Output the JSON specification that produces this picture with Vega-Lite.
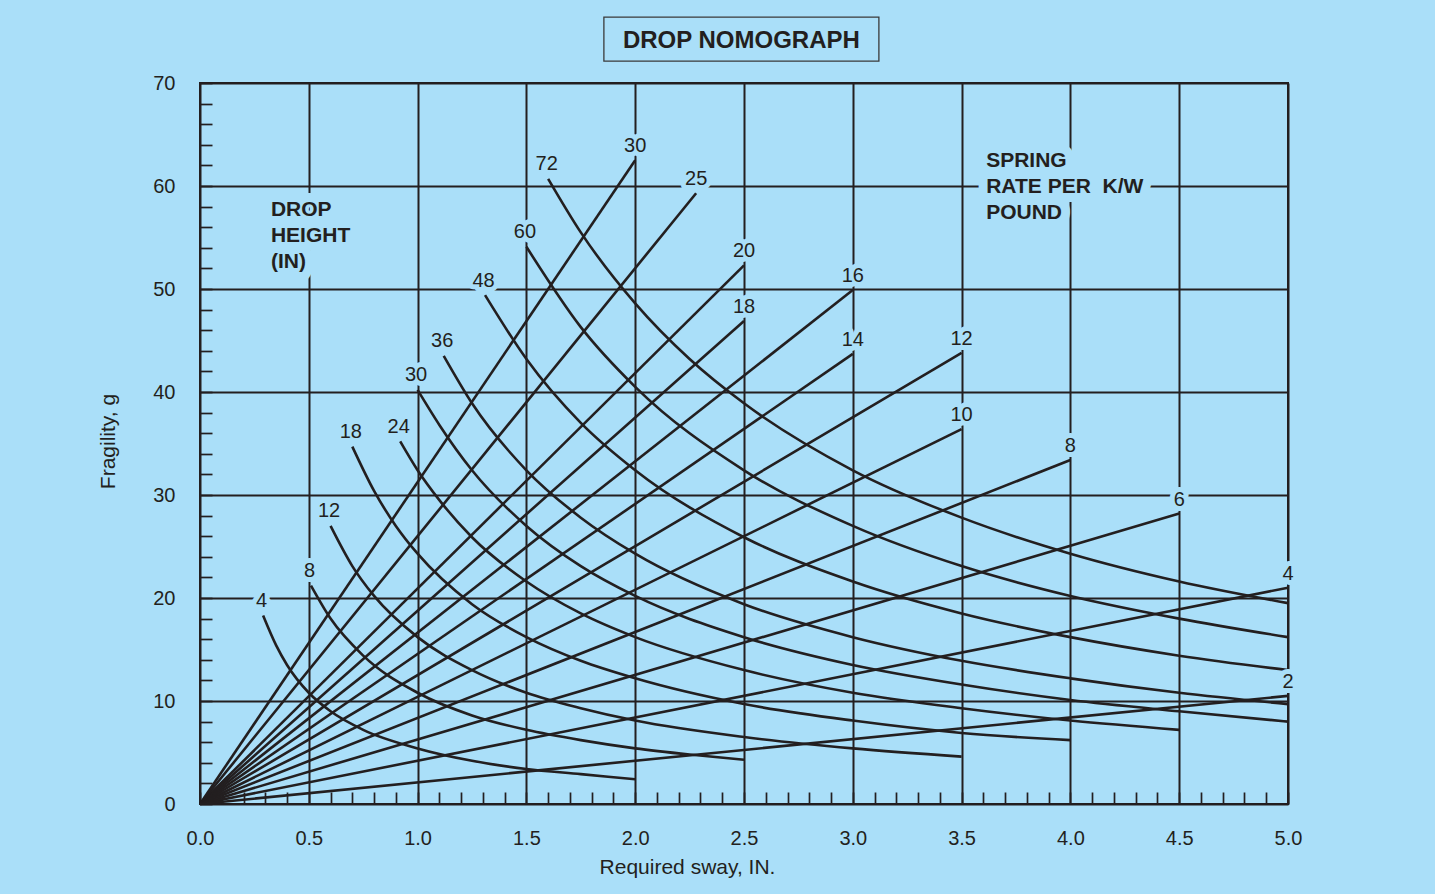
{
  "$schema": "https://vega.github.io/schema/vega-lite/v6.json",
  "width": 1088,
  "height": 721,
  "autosize": "none",
  "padding": {"left": 200, "top": 83, "right": 147, "bottom": 90},
  "background": "#aadff9",
  "config": {
    "font": "Liberation Sans",
    "view": {"stroke": "#231f20", "strokeWidth": 2},
    "axis": {
      "domain": false,
      "labelFont": "Liberation Sans",
      "labelFontSize": 20,
      "labelColor": "#231f20",
      "labelOverlap": false,
      "labelFlush": false,
      "tickColor": "#231f20",
      "tickWidth": 1.7,
      "tickSize": -12,
      "gridColor": "#231f20",
      "gridWidth": 2,
      "titleFont": "Liberation Sans",
      "titleFontSize": 21,
      "titleFontWeight": "normal",
      "titleColor": "#231f20"
    }
  },
  "datasets": {
    "springs": [
      {"k": 30, "d": 0, "g": 0}, {"k": 30, "d": 2.0, "g": 62.5},
      {"k": 25, "d": 0, "g": 0}, {"k": 25, "d": 2.28, "g": 59.3},
      {"k": 20, "d": 0, "g": 0}, {"k": 20, "d": 2.5, "g": 52.3},
      {"k": 18, "d": 0, "g": 0}, {"k": 18, "d": 2.5, "g": 46.9},
      {"k": 16, "d": 0, "g": 0}, {"k": 16, "d": 3.0, "g": 49.9},
      {"k": 14, "d": 0, "g": 0}, {"k": 14, "d": 3.0, "g": 43.7},
      {"k": 12, "d": 0, "g": 0}, {"k": 12, "d": 3.5, "g": 43.8},
      {"k": 10, "d": 0, "g": 0}, {"k": 10, "d": 3.5, "g": 36.4},
      {"k": 8, "d": 0, "g": 0}, {"k": 8, "d": 4.0, "g": 33.4},
      {"k": 6, "d": 0, "g": 0}, {"k": 6, "d": 4.5, "g": 28.2},
      {"k": 4, "d": 0, "g": 0}, {"k": 4, "d": 5.0, "g": 21.0},
      {"k": 2, "d": 0, "g": 0}, {"k": 2, "d": 5.0, "g": 10.5}
    ],
    "drops": [
      {"h": 4, "d": 0.29, "g": 18.3}, {"h": 4, "d": 0.35, "g": 15.4}, {"h": 4, "d": 0.4, "g": 13.5}, {"h": 4, "d": 0.5, "g": 10.8}, {"h": 4, "d": 0.6, "g": 9.0}, {"h": 4, "d": 0.75, "g": 7.2}, {"h": 4, "d": 1.0, "g": 5.4}, {"h": 4, "d": 1.25, "g": 4.2}, {"h": 4, "d": 1.5, "g": 3.4}, {"h": 4, "d": 1.75, "g": 2.9}, {"h": 4, "d": 2.0, "g": 2.4},
      {"h": 8, "d": 0.51, "g": 21.2}, {"h": 8, "d": 0.6, "g": 18.0}, {"h": 8, "d": 0.75, "g": 14.4}, {"h": 8, "d": 1.0, "g": 10.8}, {"h": 8, "d": 1.25, "g": 8.6}, {"h": 8, "d": 1.5, "g": 7.2}, {"h": 8, "d": 1.75, "g": 6.2}, {"h": 8, "d": 2.0, "g": 5.4}, {"h": 8, "d": 2.25, "g": 4.8}, {"h": 8, "d": 2.5, "g": 4.3},
      {"h": 12, "d": 0.6, "g": 27.0}, {"h": 12, "d": 0.7, "g": 23.1}, {"h": 12, "d": 0.8, "g": 20.2}, {"h": 12, "d": 1.0, "g": 16.2}, {"h": 12, "d": 1.25, "g": 13.0}, {"h": 12, "d": 1.5, "g": 10.8}, {"h": 12, "d": 1.75, "g": 9.3}, {"h": 12, "d": 2.0, "g": 8.1}, {"h": 12, "d": 2.5, "g": 6.5}, {"h": 12, "d": 3.0, "g": 5.4}, {"h": 12, "d": 3.5, "g": 4.6},
      {"h": 18, "d": 0.7, "g": 34.7}, {"h": 18, "d": 0.8, "g": 30.4}, {"h": 18, "d": 0.9, "g": 27.0}, {"h": 18, "d": 1.0, "g": 24.3}, {"h": 18, "d": 1.25, "g": 19.4}, {"h": 18, "d": 1.5, "g": 16.2}, {"h": 18, "d": 1.75, "g": 13.9}, {"h": 18, "d": 2.0, "g": 12.2}, {"h": 18, "d": 2.5, "g": 9.7}, {"h": 18, "d": 3.0, "g": 8.1}, {"h": 18, "d": 3.5, "g": 6.9}, {"h": 18, "d": 4.0, "g": 6.2},
      {"h": 24, "d": 0.92, "g": 35.2}, {"h": 24, "d": 1.0, "g": 32.4}, {"h": 24, "d": 1.1, "g": 29.5}, {"h": 24, "d": 1.25, "g": 25.9}, {"h": 24, "d": 1.5, "g": 21.6}, {"h": 24, "d": 1.75, "g": 18.5}, {"h": 24, "d": 2.0, "g": 16.2}, {"h": 24, "d": 2.5, "g": 13.0}, {"h": 24, "d": 3.0, "g": 10.8}, {"h": 24, "d": 3.5, "g": 9.3}, {"h": 24, "d": 4.0, "g": 8.1}, {"h": 24, "d": 4.5, "g": 7.2},
      {"h": 30, "d": 1.0, "g": 40.2}, {"h": 30, "d": 1.1, "g": 36.8}, {"h": 30, "d": 1.25, "g": 32.4}, {"h": 30, "d": 1.5, "g": 27.0}, {"h": 30, "d": 1.75, "g": 23.1}, {"h": 30, "d": 2.0, "g": 20.2}, {"h": 30, "d": 2.5, "g": 16.2}, {"h": 30, "d": 3.0, "g": 13.5}, {"h": 30, "d": 3.5, "g": 11.6}, {"h": 30, "d": 4.0, "g": 10.1}, {"h": 30, "d": 4.5, "g": 9.0}, {"h": 30, "d": 5.0, "g": 8.0},
      {"h": 36, "d": 1.12, "g": 43.5}, {"h": 36, "d": 1.25, "g": 38.9}, {"h": 36, "d": 1.5, "g": 32.4}, {"h": 36, "d": 1.75, "g": 27.8}, {"h": 36, "d": 2.0, "g": 24.3}, {"h": 36, "d": 2.5, "g": 19.4}, {"h": 36, "d": 3.0, "g": 16.2}, {"h": 36, "d": 3.5, "g": 13.9}, {"h": 36, "d": 4.0, "g": 12.2}, {"h": 36, "d": 4.5, "g": 10.8}, {"h": 36, "d": 5.0, "g": 9.7},
      {"h": 48, "d": 1.31, "g": 49.4}, {"h": 48, "d": 1.5, "g": 43.2}, {"h": 48, "d": 1.75, "g": 37.0}, {"h": 48, "d": 2.0, "g": 32.4}, {"h": 48, "d": 2.5, "g": 25.9}, {"h": 48, "d": 3.0, "g": 21.6}, {"h": 48, "d": 3.5, "g": 18.5}, {"h": 48, "d": 4.0, "g": 16.2}, {"h": 48, "d": 4.5, "g": 14.4}, {"h": 48, "d": 5.0, "g": 13.0},
      {"h": 60, "d": 1.5, "g": 54.1}, {"h": 60, "d": 1.75, "g": 46.3}, {"h": 60, "d": 2.0, "g": 40.5}, {"h": 60, "d": 2.5, "g": 32.4}, {"h": 60, "d": 3.0, "g": 27.0}, {"h": 60, "d": 3.5, "g": 23.1}, {"h": 60, "d": 4.0, "g": 20.2}, {"h": 60, "d": 4.5, "g": 18.0}, {"h": 60, "d": 5.0, "g": 16.2},
      {"h": 72, "d": 1.6, "g": 60.7}, {"h": 72, "d": 1.75, "g": 55.5}, {"h": 72, "d": 2.0, "g": 48.6}, {"h": 72, "d": 2.25, "g": 43.2}, {"h": 72, "d": 2.5, "g": 38.9}, {"h": 72, "d": 3.0, "g": 32.4}, {"h": 72, "d": 3.5, "g": 27.8}, {"h": 72, "d": 4.0, "g": 24.3}, {"h": 72, "d": 4.5, "g": 21.6}, {"h": 72, "d": 5.0, "g": 19.5}
    ],
    "notes": [
      {"note": "DROP\nHEIGHT\n(IN)", "d": 0.326, "g": 57.1},
      {"note": "SPRING\nRATE PER\u00a0\u00a0K/W\nPOUND", "d": 3.613, "g": 61.87}
    ],
    "heading": [
      {"note": "DROP NOMOGRAPH", "d": 2.488, "g": 73.37}
    ]
  },
  "encoding": {
    "x": {
      "field": "d",
      "type": "quantitative",
      "scale": {"domain": [0, 5], "nice": false, "zero": false},
      "axis": {
        "title": "Required sway, IN.",
        "titleX": 487,
        "titleY": 69,
        "titleAlign": "center",
        "titleBaseline": "alphabetic",
        "values": [0,0.1,0.2,0.3,0.4,0.5,0.6,0.7,0.8,0.9,1,1.1,1.2,1.3,1.4,1.5,1.6,1.7,1.8,1.9,2,2.1,2.2,2.3,2.4,2.5,2.6,2.7,2.8,2.9,3,3.1,3.2,3.3,3.4,3.5,3.6,3.7,3.8,3.9,4,4.1,4.2,4.3,4.4,4.5,4.6,4.7,4.8,4.9,5],
        "labelExpr": "abs(datum.value * 2 - round(datum.value * 2)) < 0.001 ? format(datum.value, '.1f') : ''",
        "labelPadding": 36,
        "grid": true,
        "gridOpacity": {"condition": {"test": "abs(datum.value * 2 - round(datum.value * 2)) < 0.001", "value": 1}, "value": 0}
      }
    },
    "y": {
      "field": "g",
      "type": "quantitative",
      "scale": {"domain": [0, 70], "nice": false, "zero": false},
      "axis": {
        "title": "Fragility, g",
        "titleX": -86,
        "titleY": 358,
        "titleAngle": -90,
        "titleAlign": "center",
        "titleBaseline": "alphabetic",
        "values": [0,2,4,6,8,10,12,14,16,18,20,22,24,26,28,30,32,34,36,38,40,42,44,46,48,50,52,54,56,58,60,62,64,66,68,70],
        "labelExpr": "datum.value % 10 === 0 ? datum.label : ''",
        "labelPadding": 37,
        "grid": true,
        "gridOpacity": {"condition": {"test": "datum.value % 10 === 0", "value": 1}, "value": 0}
      }
    }
  },
  "layer": [
    {
      "data": {"name": "springs"},
      "mark": {"type": "line", "color": "#231f20", "strokeWidth": 2.6, "strokeJoin": "round"},
      "encoding": {"detail": {"field": "k", "type": "nominal"}}
    },
    {
      "data": {"name": "drops"},
      "mark": {"type": "line", "color": "#231f20", "strokeWidth": 2.6, "interpolate": "monotone"},
      "encoding": {"detail": {"field": "h", "type": "nominal"}}
    },
    {
      "data": {"name": "springs"},
      "transform": [
        {"joinaggregate": [{"op": "max", "field": "d", "as": "dmax"}], "groupby": ["k"]},
        {"filter": "datum.d === datum.dmax"}
      ],
      "mark": {"type": "text", "font": "Liberation Sans", "fontSize": 20, "align": "center", "baseline": "middle", "dy": -14, "fill": "#aadff9", "stroke": "#aadff9", "strokeWidth": 10, "strokeJoin": "round"},
      "encoding": {"text": {"field": "k", "type": "nominal"}}
    },
    {
      "data": {"name": "springs"},
      "transform": [
        {"joinaggregate": [{"op": "max", "field": "d", "as": "dmax"}], "groupby": ["k"]},
        {"filter": "datum.d === datum.dmax"}
      ],
      "mark": {"type": "text", "font": "Liberation Sans", "fontSize": 20, "align": "center", "baseline": "middle", "dy": -14, "fill": "#231f20"},
      "encoding": {"text": {"field": "k", "type": "nominal"}}
    },
    {
      "data": {"name": "drops"},
      "transform": [
        {"joinaggregate": [{"op": "min", "field": "d", "as": "dmin"}], "groupby": ["h"]},
        {"filter": "datum.d === datum.dmin"}
      ],
      "mark": {"type": "text", "font": "Liberation Sans", "fontSize": 20, "align": "center", "baseline": "middle", "dy": -14.5, "dx": -1.5, "fill": "#aadff9", "stroke": "#aadff9", "strokeWidth": 10, "strokeJoin": "round"},
      "encoding": {"text": {"field": "h", "type": "nominal"}}
    },
    {
      "data": {"name": "drops"},
      "transform": [
        {"joinaggregate": [{"op": "min", "field": "d", "as": "dmin"}], "groupby": ["h"]},
        {"filter": "datum.d === datum.dmin"}
      ],
      "mark": {"type": "text", "font": "Liberation Sans", "fontSize": 20, "align": "center", "baseline": "middle", "dy": -14.5, "dx": -1.5, "fill": "#231f20"},
      "encoding": {"text": {"field": "h", "type": "nominal"}}
    },
    {
      "data": {"name": "notes"},
      "mark": {"type": "text", "font": "Liberation Sans", "fontSize": 21, "fontWeight": "bold", "align": "left", "baseline": "alphabetic", "lineBreak": "\n", "lineHeight": 26.3, "fill": "#aadff9", "stroke": "#aadff9", "strokeWidth": 18, "strokeJoin": "round"},
      "encoding": {"text": {"field": "note", "type": "nominal"}}
    },
    {
      "data": {"name": "notes"},
      "mark": {"type": "text", "font": "Liberation Sans", "fontSize": 21, "fontWeight": "bold", "align": "left", "baseline": "alphabetic", "lineBreak": "\n", "lineHeight": 26.3, "fill": "#231f20"},
      "encoding": {"text": {"field": "note", "type": "nominal"}}
    },
    {
      "data": {"name": "heading"},
      "mark": {"type": "point", "shape": "M-1,-0.16H1V0.16H-1Z", "size": 75625, "filled": false, "stroke": "#3a3a3a", "strokeWidth": 1.3, "opacity": 1, "yOffset": -9.1}
    },
    {
      "data": {"name": "heading"},
      "mark": {"type": "text", "font": "Liberation Sans", "fontSize": 24, "fontWeight": "bold", "align": "center", "baseline": "alphabetic", "fill": "#231f20"},
      "encoding": {"text": {"field": "note", "type": "nominal"}}
    }
  ]
}
